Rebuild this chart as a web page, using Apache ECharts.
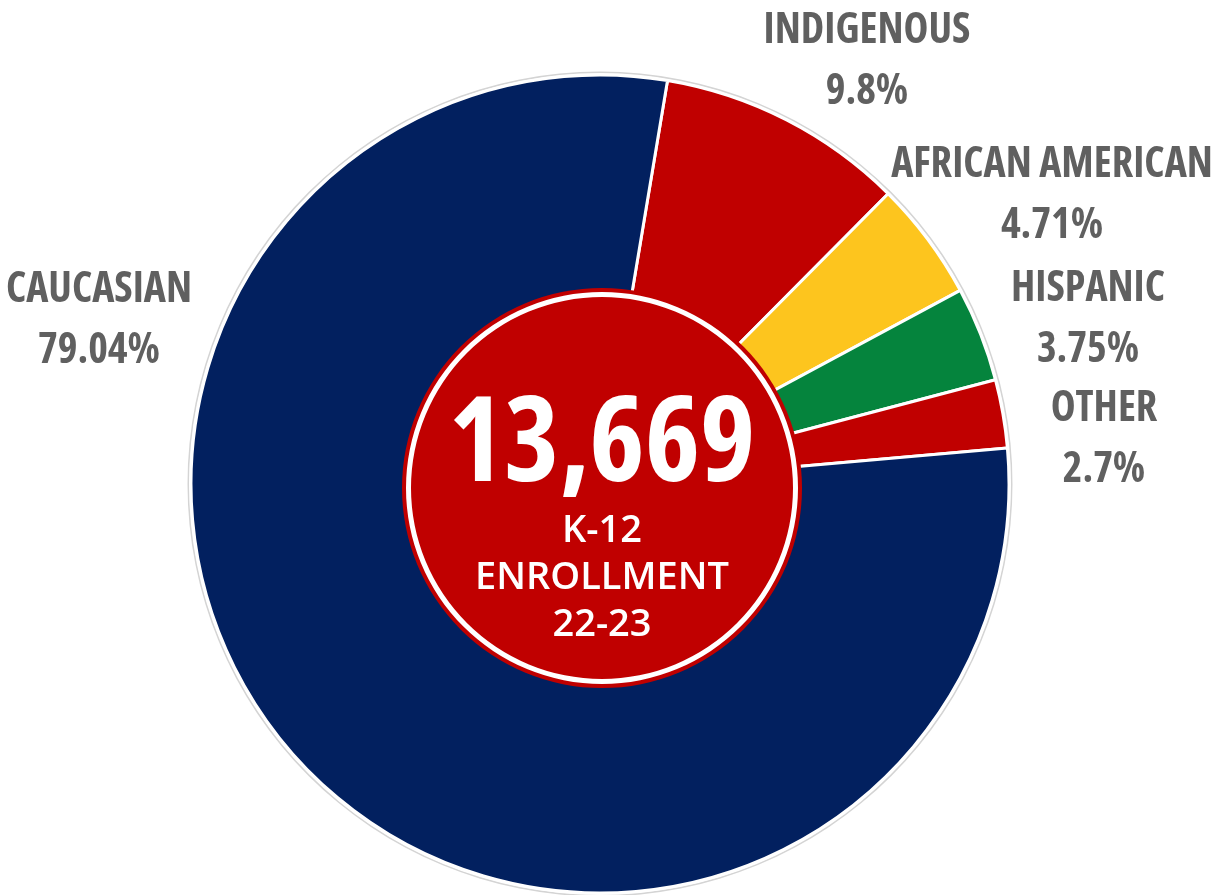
<!DOCTYPE html>
<html>
<head>
<meta charset="utf-8">
<script src="https://cdn.jsdelivr.net/npm/echarts@6/dist/echarts.min.js"></script>
<style>
  html, body { margin: 0; padding: 0; background: #ffffff; }
  #chart { width: 1218px; height: 895px; }
</style>
</head>
<body>
<div id="chart"></div>
<script>
// ---- data ----
const categories = ['INDIGENOUS', 'AFRICAN AMERICAN', 'HISPANIC', 'OTHER', 'CAUCASIAN'];
const percents   = [9.8, 4.71, 3.75, 2.7, 79.04];
const totalLabel = '13,669';
const centerLines = ['K-12', 'ENROLLMENT', '22-23'];

// ---- styles / layout (not data) ----
const sliceColors = ['#C00000', '#FDC51E', '#05843D', '#C00000', '#02205F'];
const labelPos = [[867, 62], [1052, 196], [1088, 320], [1104, 440], [99, 321]];
const condFamily = '"Open Sans", sans-serif';
const condWeight = 'bold condensed';

const chart = echarts.init(document.getElementById('chart'), null, { renderer: 'canvas' });

const pieData = categories.map((c, i) => ({
  name: c,
  value: percents[i],
  itemStyle: { color: sliceColors[i] }
}));

chart.setOption({
  animation: false,
  backgroundColor: '#ffffff',
  series: [
    {
      // thin gray outer ring
      type: 'pie',
      silent: true,
      center: [600, 484],
      radius: [411, 412.5],
      z: 1,
      label: { show: false },
      labelLine: { show: false },
      itemStyle: { color: '#d4d4d4' },
      emphasis: { disabled: true },
      data: [{ value: 1, name: '' }]
    },
    {
      type: 'pie',
      silent: true,
      center: [600, 484],
      radius: [0, 409],
      startAngle: 80.5,
      clockwise: true,
      z: 2,
      itemStyle: { borderColor: '#ffffff', borderWidth: 3 },
      emphasis: { disabled: true },
      labelLine: { show: false },
      label: {
        show: true,
        position: 'outside',
        formatter: p => p.name + '\n' + p.value + '%',
        color: '#606060',
        fontFamily: condFamily,
        fontWeight: condWeight,
        fontSize: 42,
        lineHeight: 61,
        width: 420,
        overflow: 'none',
        align: 'center'
      },
      labelLayout: p => ({
        x: labelPos[p.dataIndex][0],
        y: labelPos[p.dataIndex][1],
        align: 'center',
        verticalAlign: 'middle'
      }),
      data: pieData
    },
    {
      // red center disc with label
      type: 'pie',
      silent: true,
      center: [602, 488],
      radius: [0, 200],
      z: 3,
      itemStyle: { color: '#C00000' },
      emphasis: { disabled: true },
      labelLine: { show: false },
      label: {
        show: true,
        position: 'center',
        padding: [59, 0, 0, 0],
        formatter: () => '{a|' + totalLabel + '}\n' + centerLines.map(s => '{b|' + s + '}').join('\n'),
        rich: {
          a: {
            color: '#ffffff',
            fontFamily: condFamily,
            fontWeight: condWeight,
            fontSize: 118,
            lineHeight: 121
          },
          b: {
            color: '#ffffff',
            fontFamily: '"Open Sans", sans-serif',
            fontWeight: 600,
            fontSize: 38,
            lineHeight: 47
          }
        }
      },
      data: [{ value: 1, name: 'center' }]
    },
    {
      // white ring inside the center disc
      type: 'pie',
      silent: true,
      center: [602, 488],
      radius: [191, 196],
      z: 4,
      itemStyle: { color: '#ffffff' },
      emphasis: { disabled: true },
      label: { show: false },
      labelLine: { show: false },
      data: [{ value: 1, name: '' }]
    }
  ]
});
</script>
</body>
</html>
